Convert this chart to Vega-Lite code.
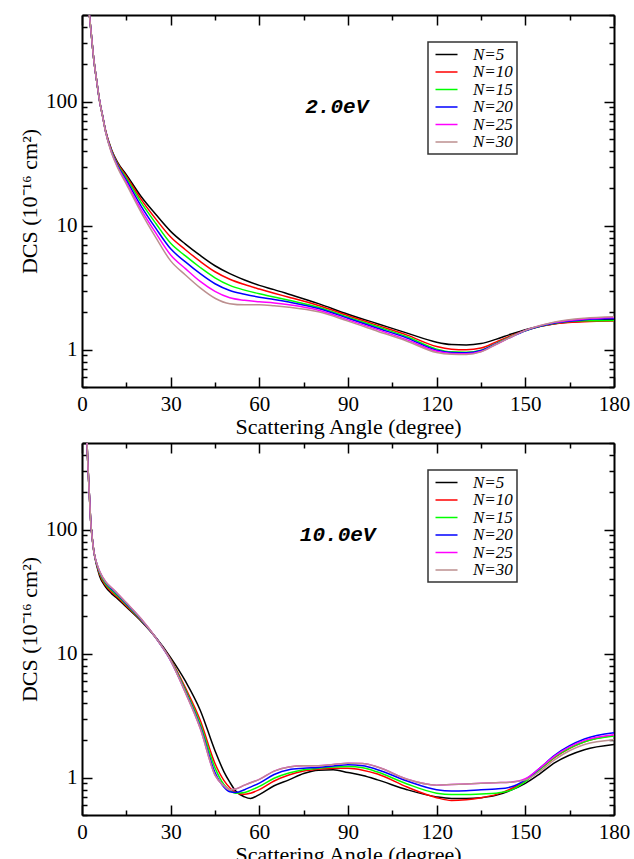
{
  "$schema": "https://vega.github.io/schema/vega-lite/v6.json",
  "background": "white",
  "padding": {"left": 18, "top": 4, "right": 5, "bottom": 5},
  "spacing": -5,
  "datasets": {
    "e2": [
      {"t": 2.5, "N=5": 500, "N=10": 500, "N=15": 500, "N=20": 500, "N=25": 500, "N=30": 500},
      {"t": 3, "N=5": 380, "N=10": 380, "N=15": 380, "N=20": 380, "N=25": 380, "N=30": 380},
      {"t": 4, "N=5": 218, "N=10": 218, "N=15": 218, "N=20": 218, "N=25": 218, "N=30": 218},
      {"t": 5, "N=5": 145, "N=10": 145, "N=15": 145, "N=20": 145, "N=25": 145, "N=30": 145},
      {"t": 6, "N=5": 100, "N=10": 100, "N=15": 100, "N=20": 100, "N=25": 100, "N=30": 100},
      {"t": 7, "N=5": 76, "N=10": 76, "N=15": 76, "N=20": 76, "N=25": 75.5, "N=30": 75.5},
      {"t": 8, "N=5": 58, "N=10": 58, "N=15": 57.5, "N=20": 57, "N=25": 57, "N=30": 56.5},
      {"t": 10, "N=5": 41, "N=10": 40.5, "N=15": 40, "N=20": 39.5, "N=25": 39, "N=30": 38.5},
      {"t": 12, "N=5": 32.5, "N=10": 32, "N=15": 31.3, "N=20": 30.7, "N=25": 30, "N=30": 29.5},
      {"t": 15, "N=5": 25.8, "N=10": 25, "N=15": 24.2, "N=20": 23.3, "N=25": 22.4, "N=30": 21.6},
      {"t": 20, "N=5": 17.2, "N=10": 16.3, "N=15": 15.4, "N=20": 14.4, "N=25": 13.5, "N=30": 12.8},
      {"t": 25, "N=5": 12.3, "N=10": 11.3, "N=15": 10.4, "N=20": 9.5, "N=25": 8.7, "N=30": 8.0},
      {"t": 30, "N=5": 9.0, "N=10": 8.1, "N=15": 7.2, "N=20": 6.5, "N=25": 5.8, "N=30": 5.2},
      {"t": 35, "N=5": 7.1, "N=10": 6.4, "N=15": 5.7, "N=20": 5.1, "N=25": 4.5, "N=30": 4.0},
      {"t": 40, "N=5": 5.75, "N=10": 5.15, "N=15": 4.6, "N=20": 4.1, "N=25": 3.55, "N=30": 3.15},
      {"t": 45, "N=5": 4.75, "N=10": 4.25, "N=15": 3.8, "N=20": 3.4, "N=25": 2.95, "N=30": 2.6},
      {"t": 50, "N=5": 4.1, "N=10": 3.7, "N=15": 3.3, "N=20": 3.0, "N=25": 2.62, "N=30": 2.35},
      {"t": 55, "N=5": 3.65, "N=10": 3.35, "N=15": 3.02, "N=20": 2.8, "N=25": 2.5, "N=30": 2.3},
      {"t": 60, "N=5": 3.3, "N=10": 3.08, "N=15": 2.82, "N=20": 2.65, "N=25": 2.43, "N=30": 2.3},
      {"t": 65, "N=5": 3.05, "N=10": 2.85, "N=15": 2.66, "N=20": 2.54, "N=25": 2.38, "N=30": 2.26},
      {"t": 70, "N=5": 2.8, "N=10": 2.65, "N=15": 2.5, "N=20": 2.42, "N=25": 2.3, "N=30": 2.2},
      {"t": 80, "N=5": 2.35, "N=10": 2.27, "N=15": 2.2, "N=20": 2.15, "N=25": 2.08, "N=30": 2.02},
      {"t": 90, "N=5": 1.93, "N=10": 1.88, "N=15": 1.83, "N=20": 1.79, "N=25": 1.74, "N=30": 1.7},
      {"t": 100, "N=5": 1.62, "N=10": 1.57, "N=15": 1.53, "N=20": 1.49, "N=25": 1.45, "N=30": 1.41},
      {"t": 110, "N=5": 1.36, "N=10": 1.31, "N=15": 1.27, "N=20": 1.24, "N=25": 1.2, "N=30": 1.17},
      {"t": 120, "N=5": 1.15, "N=10": 1.06, "N=15": 1.01, "N=20": 0.99, "N=25": 0.97, "N=30": 0.95},
      {"t": 125, "N=5": 1.1, "N=10": 1.01, "N=15": 0.96, "N=20": 0.95, "N=25": 0.93, "N=30": 0.92},
      {"t": 130, "N=5": 1.09, "N=10": 1.0, "N=15": 0.955, "N=20": 0.945, "N=25": 0.925, "N=30": 0.915},
      {"t": 135, "N=5": 1.12, "N=10": 1.03, "N=15": 0.99, "N=20": 0.985, "N=25": 0.965, "N=30": 0.96},
      {"t": 140, "N=5": 1.21, "N=10": 1.15, "N=15": 1.12, "N=20": 1.11, "N=25": 1.1, "N=30": 1.1},
      {"t": 145, "N=5": 1.33, "N=10": 1.29, "N=15": 1.27, "N=20": 1.26, "N=25": 1.26, "N=30": 1.26},
      {"t": 150, "N=5": 1.45, "N=10": 1.43, "N=15": 1.42, "N=20": 1.42, "N=25": 1.43, "N=30": 1.43},
      {"t": 160, "N=5": 1.62, "N=10": 1.62, "N=15": 1.63, "N=20": 1.64, "N=25": 1.66, "N=30": 1.67},
      {"t": 170, "N=5": 1.7, "N=10": 1.68, "N=15": 1.71, "N=20": 1.74, "N=25": 1.77, "N=30": 1.79},
      {"t": 180, "N=5": 1.76, "N=10": 1.7, "N=15": 1.72, "N=20": 1.78, "N=25": 1.82, "N=30": 1.84}
    ],
    "e10": [
      {"t": 1.7, "N=5": 500, "N=10": 500, "N=15": 500, "N=20": 500, "N=25": 500, "N=30": 500},
      {"t": 2, "N=5": 330, "N=10": 330, "N=15": 330, "N=20": 330, "N=25": 330, "N=30": 330},
      {"t": 2.5, "N=5": 190, "N=10": 190, "N=15": 190, "N=20": 190, "N=25": 190, "N=30": 190},
      {"t": 3, "N=5": 112, "N=10": 112, "N=15": 112, "N=20": 112, "N=25": 112, "N=30": 112},
      {"t": 3.5, "N=5": 84, "N=10": 84, "N=15": 84, "N=20": 84, "N=25": 84, "N=30": 84},
      {"t": 4, "N=5": 67, "N=10": 67, "N=15": 67, "N=20": 67, "N=25": 67, "N=30": 67},
      {"t": 5, "N=5": 51, "N=10": 52, "N=15": 52.5, "N=20": 53, "N=25": 53.5, "N=30": 53.5},
      {"t": 6, "N=5": 42, "N=10": 43.5, "N=15": 44.5, "N=20": 45.5, "N=25": 46, "N=30": 46},
      {"t": 8, "N=5": 34.5, "N=10": 35.5, "N=15": 36.5, "N=20": 37.5, "N=25": 38, "N=30": 38},
      {"t": 10, "N=5": 30.5, "N=10": 31.5, "N=15": 32.5, "N=20": 33.3, "N=25": 34, "N=30": 34},
      {"t": 12, "N=5": 27.8, "N=10": 28.6, "N=15": 29.3, "N=20": 30, "N=25": 30.6, "N=30": 30.6},
      {"t": 15, "N=5": 23.8, "N=10": 24.3, "N=15": 24.8, "N=20": 25.3, "N=25": 25.7, "N=30": 25.7},
      {"t": 20, "N=5": 18.3, "N=10": 18.5, "N=15": 18.7, "N=20": 18.9, "N=25": 19.1, "N=30": 19.1},
      {"t": 25, "N=5": 13.5, "N=10": 13.4, "N=15": 13.4, "N=20": 13.4, "N=25": 13.4, "N=30": 13.4},
      {"t": 30, "N=5": 9.3, "N=10": 9.0, "N=15": 8.9, "N=20": 8.8, "N=25": 8.8, "N=30": 8.8},
      {"t": 35, "N=5": 6.0, "N=10": 5.3, "N=15": 5.1, "N=20": 4.95, "N=25": 4.85, "N=30": 4.85},
      {"t": 40, "N=5": 3.5, "N=10": 2.9, "N=15": 2.72, "N=20": 2.58, "N=25": 2.5, "N=30": 2.5},
      {"t": 45, "N=5": 1.65, "N=10": 1.3, "N=15": 1.2, "N=20": 1.1, "N=25": 1.05, "N=30": 1.05},
      {"t": 48, "N=5": 1.12, "N=10": 0.95, "N=15": 0.88, "N=20": 0.84, "N=25": 0.86, "N=30": 0.86},
      {"t": 50, "N=5": 0.92, "N=10": 0.83, "N=15": 0.79, "N=20": 0.77, "N=25": 0.8, "N=30": 0.8},
      {"t": 52, "N=5": 0.78, "N=10": 0.76, "N=15": 0.75, "N=20": 0.76, "N=25": 0.81, "N=30": 0.81},
      {"t": 55, "N=5": 0.7, "N=10": 0.735, "N=15": 0.76, "N=20": 0.8, "N=25": 0.87, "N=30": 0.87},
      {"t": 57, "N=5": 0.68, "N=10": 0.75, "N=15": 0.79, "N=20": 0.84, "N=25": 0.91, "N=30": 0.91},
      {"t": 60, "N=5": 0.73, "N=10": 0.8, "N=15": 0.85, "N=20": 0.905, "N=25": 0.97, "N=30": 0.97},
      {"t": 65, "N=5": 0.86, "N=10": 0.94, "N=15": 0.99, "N=20": 1.06, "N=25": 1.13, "N=30": 1.13},
      {"t": 70, "N=5": 0.96, "N=10": 1.05, "N=15": 1.09, "N=20": 1.16, "N=25": 1.22, "N=30": 1.22},
      {"t": 75, "N=5": 1.08, "N=10": 1.13, "N=15": 1.16, "N=20": 1.19, "N=25": 1.25, "N=30": 1.25},
      {"t": 80, "N=5": 1.15, "N=10": 1.17, "N=15": 1.19, "N=20": 1.21, "N=25": 1.25, "N=30": 1.25},
      {"t": 85, "N=5": 1.16, "N=10": 1.19, "N=15": 1.22, "N=20": 1.24, "N=25": 1.28, "N=30": 1.28},
      {"t": 90, "N=5": 1.1, "N=10": 1.19, "N=15": 1.23, "N=20": 1.27, "N=25": 1.31, "N=30": 1.31},
      {"t": 95, "N=5": 1.04, "N=10": 1.15, "N=15": 1.2, "N=20": 1.25, "N=25": 1.3, "N=30": 1.3},
      {"t": 100, "N=5": 0.96, "N=10": 1.07, "N=15": 1.11, "N=20": 1.16, "N=25": 1.22, "N=30": 1.22},
      {"t": 110, "N=5": 0.8, "N=10": 0.84, "N=15": 0.89, "N=20": 0.94, "N=25": 0.97, "N=30": 0.97},
      {"t": 120, "N=5": 0.7, "N=10": 0.69, "N=15": 0.75, "N=20": 0.8, "N=25": 0.87, "N=30": 0.87},
      {"t": 125, "N=5": 0.68, "N=10": 0.655, "N=15": 0.73, "N=20": 0.78, "N=25": 0.88, "N=30": 0.88},
      {"t": 130, "N=5": 0.68, "N=10": 0.665, "N=15": 0.73, "N=20": 0.785, "N=25": 0.89, "N=30": 0.89},
      {"t": 135, "N=5": 0.69, "N=10": 0.69, "N=15": 0.74, "N=20": 0.8, "N=25": 0.9, "N=30": 0.9},
      {"t": 140, "N=5": 0.72, "N=10": 0.73, "N=15": 0.75, "N=20": 0.81, "N=25": 0.91, "N=30": 0.91},
      {"t": 145, "N=5": 0.79, "N=10": 0.81, "N=15": 0.79, "N=20": 0.84, "N=25": 0.92, "N=30": 0.92},
      {"t": 150, "N=5": 0.9, "N=10": 0.94, "N=15": 0.93, "N=20": 0.96, "N=25": 0.98, "N=30": 0.96},
      {"t": 155, "N=5": 1.08, "N=10": 1.17, "N=15": 1.17, "N=20": 1.2, "N=25": 1.2, "N=30": 1.13},
      {"t": 160, "N=5": 1.32, "N=10": 1.46, "N=15": 1.47, "N=20": 1.52, "N=25": 1.5, "N=30": 1.4},
      {"t": 170, "N=5": 1.68, "N=10": 1.95, "N=15": 1.95, "N=20": 2.05, "N=25": 2.0, "N=30": 1.85},
      {"t": 180, "N=5": 1.85, "N=10": 2.2, "N=15": 2.17, "N=20": 2.3, "N=25": 2.22, "N=30": 2.02}
    ]
  },
  "vconcat": [
    {
      "width": 532,
      "height": 372,
      "layer": [
        {
          "data": {"name": "e2"},
          "transform": [{"fold": ["N=5", "N=10", "N=15", "N=20", "N=25", "N=30"], "as": ["N", "dcs"]}],
          "mark": {"type": "line", "interpolate": "monotone", "strokeWidth": 1.5, "clip": true},
          "encoding": {
            "x": {"field": "t", "type": "quantitative", "scale": {"domain": [0, 180], "nice": false, "zero": false},
              "axis": {"orient": "bottom", "values": [0, 15, 30, 45, 60, 75, 90, 105, 120, 135, 150, 165, 180], "labelExpr": "datum.value % 30 === 0 ? datum.label : ''", "labelPadding": 16, "labelFlush": false, "labelOverlap": false, "title": "Scattering Angle (degree)", "titlePadding": -3,
                "tickSize": {"condition": {"test": "datum.value % 30 === 0", "value": -10}, "value": -5}}},
            "y": {"field": "dcs", "type": "quantitative", "scale": {"type": "log", "domain": [0.5, 500], "nice": false},
              "axis": {"orient": "left", "values": [0.5, 0.6, 0.7, 0.8, 0.9, 1, 2, 3, 4, 5, 6, 7, 8, 9, 10, 20, 30, 40, 50, 60, 70, 80, 90, 100, 200, 300, 400, 500], "labelExpr": "indexof([1,10,100], datum.value) >= 0 ? format(datum.value, 'd') : ''", "labelPadding": 15, "labelOverlap": false, "labelFlush": false, "title": "DCS (10⁻¹⁶ cm²)", "titlePadding": 4,
                "tickSize": {"condition": {"test": "indexof([1,10,100], datum.value) >= 0", "value": -10}, "value": -5}}},
            "color": {"field": "N", "type": "nominal",
              "scale": {"domain": ["N=5", "N=10", "N=15", "N=20", "N=25", "N=30"], "range": ["#000000", "#ff0000", "#00ff00", "#0000ff", "#ff00ff", "#bc8f8f"]},
              "legend": {"orient": "none", "legendX": 346, "legendY": 27, "direction": "vertical", "title": null}}
          }
        },
        {
          "data": {"values": [{}]},
          "mark": {"type": "text", "font": "Liberation Mono", "fontWeight": "bold", "fontStyle": "italic", "fontSize": 21, "align": "center", "baseline": "middle", "color": "black"},
          "encoding": {
            "x": {"datum": 86.2, "type": "quantitative", "scale": {"domain": [0, 180], "nice": false, "zero": false},
              "axis": {"orient": "top", "values": [0, 15, 30, 45, 60, 75, 90, 105, 120, 135, 150, 165, 180], "labels": false, "title": null,
                "tickSize": {"condition": {"test": "datum.value % 30 === 0", "value": -10}, "value": -5}}},
            "y": {"datum": 91, "type": "quantitative", "scale": {"type": "log", "domain": [0.5, 500], "nice": false},
              "axis": {"orient": "right", "values": [0.5, 0.6, 0.7, 0.8, 0.9, 1, 2, 3, 4, 5, 6, 7, 8, 9, 10, 20, 30, 40, 50, 60, 70, 80, 90, 100, 200, 300, 400, 500], "labels": false, "title": null,
                "tickSize": {"condition": {"test": "indexof([1,10,100], datum.value) >= 0", "value": -10}, "value": -5}}},
            "text": {"value": "2.0eV"}
          }
        }
      ],
      "resolve": {"axis": {"x": "independent", "y": "independent"}}
    },
    {
      "width": 532,
      "height": 372,
      "layer": [
        {
          "data": {"name": "e10"},
          "transform": [{"fold": ["N=5", "N=10", "N=15", "N=20", "N=25", "N=30"], "as": ["N", "dcs"]}],
          "mark": {"type": "line", "interpolate": "monotone", "strokeWidth": 1.5, "clip": true},
          "encoding": {
            "x": {"field": "t", "type": "quantitative", "scale": {"domain": [0, 180], "nice": false, "zero": false},
              "axis": {"orient": "bottom", "values": [0, 15, 30, 45, 60, 75, 90, 105, 120, 135, 150, 165, 180], "labelExpr": "datum.value % 30 === 0 ? datum.label : ''", "labelPadding": 16, "labelFlush": false, "labelOverlap": false, "title": "Scattering Angle (degree)", "titlePadding": -3,
                "tickSize": {"condition": {"test": "datum.value % 30 === 0", "value": -10}, "value": -5}}},
            "y": {"field": "dcs", "type": "quantitative", "scale": {"type": "log", "domain": [0.5, 500], "nice": false},
              "axis": {"orient": "left", "values": [0.5, 0.6, 0.7, 0.8, 0.9, 1, 2, 3, 4, 5, 6, 7, 8, 9, 10, 20, 30, 40, 50, 60, 70, 80, 90, 100, 200, 300, 400, 500], "labelExpr": "indexof([1,10,100], datum.value) >= 0 ? format(datum.value, 'd') : ''", "labelPadding": 15, "labelOverlap": false, "labelFlush": false, "title": "DCS (10⁻¹⁶ cm²)", "titlePadding": 4,
                "tickSize": {"condition": {"test": "indexof([1,10,100], datum.value) >= 0", "value": -10}, "value": -5}}},
            "color": {"field": "N", "type": "nominal",
              "scale": {"domain": ["N=5", "N=10", "N=15", "N=20", "N=25", "N=30"], "range": ["#000000", "#ff0000", "#00ff00", "#0000ff", "#ff00ff", "#bc8f8f"]},
              "legend": {"orient": "none", "legendX": 346, "legendY": 27, "direction": "vertical", "title": null}}
          }
        },
        {
          "data": {"values": [{}]},
          "mark": {"type": "text", "font": "Liberation Mono", "fontWeight": "bold", "fontStyle": "italic", "fontSize": 21, "align": "center", "baseline": "middle", "color": "black"},
          "encoding": {
            "x": {"datum": 86.5, "type": "quantitative", "scale": {"domain": [0, 180], "nice": false, "zero": false},
              "axis": {"orient": "top", "values": [0, 15, 30, 45, 60, 75, 90, 105, 120, 135, 150, 165, 180], "labels": false, "title": null,
                "tickSize": {"condition": {"test": "datum.value % 30 === 0", "value": -10}, "value": -5}}},
            "y": {"datum": 91, "type": "quantitative", "scale": {"type": "log", "domain": [0.5, 500], "nice": false},
              "axis": {"orient": "right", "values": [0.5, 0.6, 0.7, 0.8, 0.9, 1, 2, 3, 4, 5, 6, 7, 8, 9, 10, 20, 30, 40, 50, 60, 70, 80, 90, 100, 200, 300, 400, 500], "labels": false, "title": null,
                "tickSize": {"condition": {"test": "indexof([1,10,100], datum.value) >= 0", "value": -10}, "value": -5}}},
            "text": {"value": "10.0eV"}
          }
        }
      ],
      "resolve": {"axis": {"x": "independent", "y": "independent"}}
    }
  ],
  "resolve": {"scale": {"color": "independent"}, "legend": {"color": "independent"}},
  "config": {
    "view": {"stroke": null},
    "axis": {"grid": false, "domainColor": "black", "domainWidth": 2, "tickColor": "black", "tickWidth": 1.5, "labelFont": "Liberation Serif", "labelFontSize": 21, "labelColor": "black", "titleFont": "Liberation Serif", "titleFontSize": 22, "titleFontWeight": "normal", "titleColor": "black"},
    "legend": {"strokeColor": "#333333", "strokeWidth": 1.5, "fillColor": "white", "padding": 4, "symbolType": "M-0.714,0H2.43", "symbolSize": 196, "symbolStrokeWidth": 1.5, "labelFont": "Liberation Serif", "labelFontStyle": "italic", "labelFontSize": 17, "labelColor": "black", "labelOffset": 24, "rowPadding": -0.5}
  }
}
